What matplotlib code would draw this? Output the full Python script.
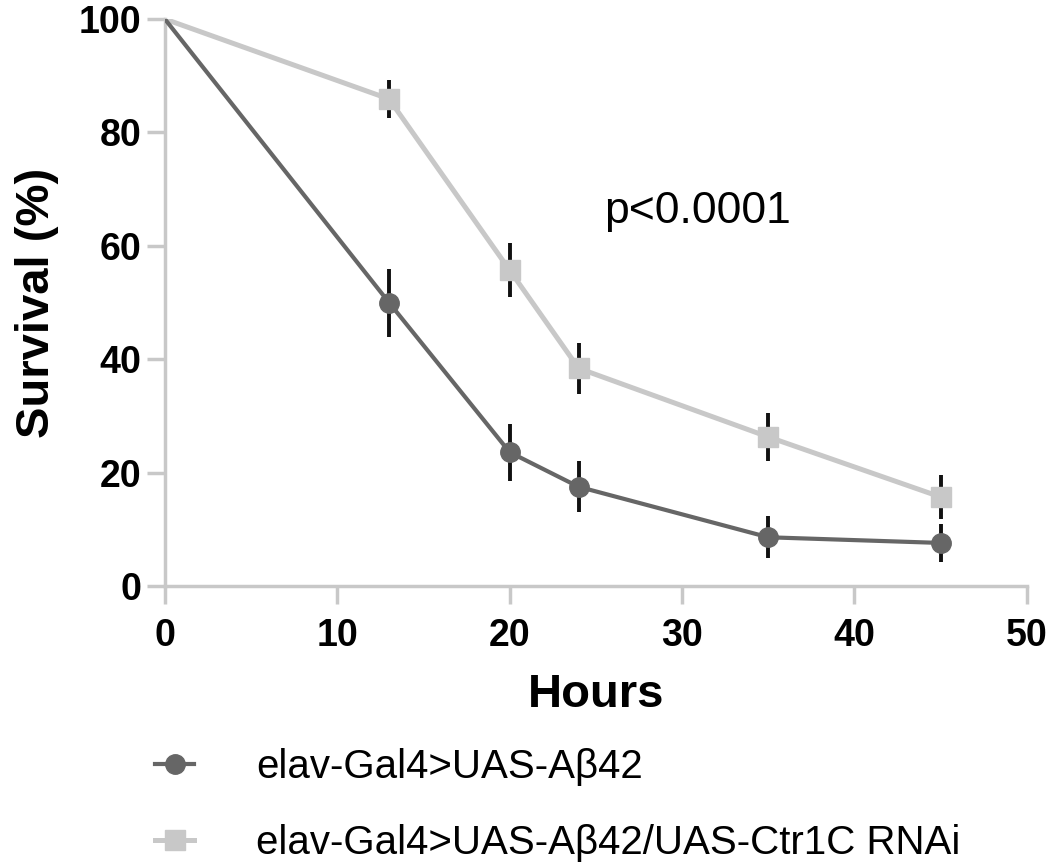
import matplotlib
matplotlib.use("Agg")
import matplotlib.pyplot as plt

hours = [0, 13, 20, 24, 35, 45]
abeta_mean = [100, 50, 23.6, 17.5, 8.6, 7.6]
abeta_err = [0, 6, 5, 4.5, 3.7, 3.4]
rnai_mean = [100, 85.9, 55.7, 38.4, 26.3, 15.7]
rnai_err = [0, 3.3, 4.8, 4.5, 4.3, 3.8]
labels = ["elav-Gal4>UAS-Aβ42", "elav-Gal4>UAS-Aβ42/UAS-Ctr1C RNAi"]
xticks = [0, 10, 20, 30, 40, 50]
yticks = [0, 20, 40, 60, 80, 100]

plt.rcParams['font.family'] = ['Liberation Sans', 'DejaVu Sans']

dark = '#666666'
light = '#c8c8c8'

fig = plt.figure(figsize=(10.5, 8.65), dpi=100)
ax = fig.add_axes([0.157, 0.3225, 0.821, 0.6555])

ax.errorbar(hours[1:], rnai_mean[1:], yerr=rnai_err[1:], fmt='none', ecolor='#111111',
            elinewidth=2.8, capsize=0, zorder=2)
ax.errorbar(hours[1:], abeta_mean[1:], yerr=abeta_err[1:], fmt='none', ecolor='#111111',
            elinewidth=2.8, capsize=0, zorder=2)
l2, = ax.plot(hours, rnai_mean, color=light, lw=3.6, zorder=3, marker='s', markersize=15,
              markevery=list(range(1, len(hours))), label=labels[1])
l1, = ax.plot(hours, abeta_mean, color=dark, lw=3.0, zorder=4, marker='o', markersize=14,
              markevery=list(range(1, len(hours))), label=labels[0])

ax.set_xlim(0, 50)
ax.set_ylim(0, 100)
ax.set_xticks(xticks)
ax.set_yticks(yticks)
for s in ['top', 'right']:
    ax.spines[s].set_visible(False)
for s in ['left', 'bottom']:
    ax.spines[s].set_color(light)
    ax.spines[s].set_linewidth(2.5)
ax.tick_params(axis='both', colors=light, width=2.5, length=13, labelcolor='black',
               labelsize=27)
ax.tick_params(axis='y', pad=4)
ax.tick_params(axis='x', pad=10)
for lab in ax.get_xticklabels() + ax.get_yticklabels():
    lab.set_fontweight('bold')

ax.set_xlabel('Hours', fontsize=34, fontweight='bold', labelpad=14)
ax.set_ylabel('Survival (%)', fontsize=34, fontweight='bold', labelpad=14)
ax.text(30.9, 66, 'p<0.0001', fontsize=32, ha='center', va='center')

fig.legend(handles=[l1, l2], labels=labels, loc='upper left', bbox_to_anchor=(0.148, 0.135),
           frameon=False, fontsize=29, handlelength=0.95, labelspacing=0.95, handletextpad=1.55,
           borderaxespad=0, borderpad=0)

fig.savefig('out.png', dpi=100)
